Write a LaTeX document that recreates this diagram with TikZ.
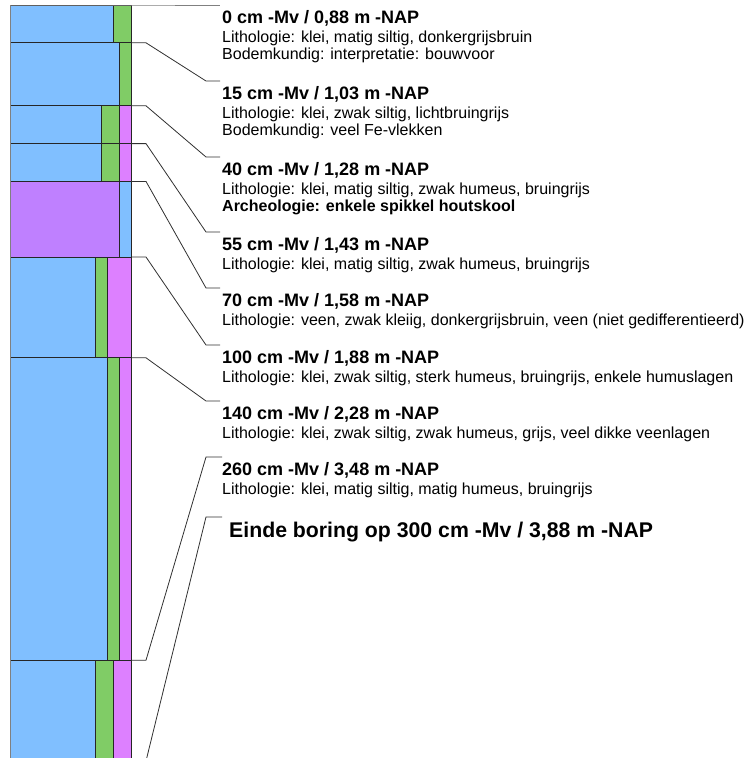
\documentclass[tikz,border=0pt]{standalone}
\usepackage{fontspec}
\setmainfont{Liberation Sans}
\definecolor{cblue}{HTML}{80BFFF}
\definecolor{cgreen}{HTML}{80CC66}
\definecolor{cpink}{HTML}{DD80FF}
\definecolor{cpurple}{HTML}{BF80FF}
\definecolor{cline}{HTML}{303030}
\begin{document}
\begin{tikzpicture}[x=1pt,y=-1pt,
  seg/.style={draw=black!85,line width=0.8pt},
  leader/.style={draw=cline,line width=0.8pt},
  hdr/.style={anchor=base west,inner sep=0pt,font=\fontsize{18}{20}\selectfont\bfseries},
  txt/.style={anchor=base west,inner sep=0pt,font=\fontsize{16}{18}\selectfont},
  endtxt/.style={anchor=base west,inner sep=0pt,font=\fontsize{21.25}{24}\selectfont\bfseries},
]
\useasboundingbox (0,0) rectangle (744,758);
% layers
\path[seg,fill=cblue]  (10,5) rectangle (113,42.8);
\path[seg,fill=cgreen] (113,5) rectangle (131,42.8);
\path[seg,fill=cblue]  (10,42.8) rectangle (119,105.8);
\path[seg,fill=cgreen] (119,42.8) rectangle (131,105.8);
\path[seg,fill=cblue]  (10,105.8) rectangle (101,143.6);
\path[seg,fill=cgreen] (101,105.8) rectangle (119,143.6);
\path[seg,fill=cpink]  (119,105.8) rectangle (131,143.6);
\path[seg,fill=cblue]  (10,143.6) rectangle (101,181.4);
\path[seg,fill=cgreen] (101,143.6) rectangle (119,181.4);
\path[seg,fill=cpink]  (119,143.6) rectangle (131,181.4);
\path[seg,fill=cpurple](10,181.4) rectangle (119,257);
\path[seg,fill=cblue]  (119,181.4) rectangle (131,257);
\path[seg,fill=cblue]  (10,257) rectangle (95,357.8);
\path[seg,fill=cgreen] (95,257) rectangle (107,357.8);
\path[seg,fill=cpink]  (107,257) rectangle (131,357.8);
\path[seg,fill=cblue]  (10,357.8) rectangle (107,660.2);
\path[seg,fill=cgreen] (107,357.8) rectangle (119,660.2);
\path[seg,fill=cpink]  (119,357.8) rectangle (131,660.2);
\path[seg,fill=cblue]  (10,660.2) rectangle (95,761);
\path[seg,fill=cgreen] (95,660.2) rectangle (113,761);
\path[seg,fill=cpink]  (113,660.2) rectangle (131,761);
\draw[gray,line width=0.8pt] (10,5) -- (10,758);
% boundary coordinates
\coordinate (t0) at (131,5);
\coordinate (t1) at (131,42.8);   \coordinate (k1) at (146,42.8);  \coordinate (m1) at (206,81);
\coordinate (t2) at (131,105.8);  \coordinate (k2) at (146,105.8); \coordinate (m2) at (206,157);
\coordinate (t3) at (131,143.6);  \coordinate (k3) at (146,143.6); \coordinate (m3) at (206,232);
\coordinate (t4) at (131,181.4);  \coordinate (k4) at (146,181.4); \coordinate (m4) at (206,288);
\coordinate (t5) at (131,257);    \coordinate (k5) at (146,257);   \coordinate (m5) at (206,345);
\coordinate (t6) at (131,357.8);  \coordinate (k6) at (146,357.8); \coordinate (m6) at (206,401);
\coordinate (t7) at (131,660.2);  \coordinate (k7) at (146,660.2); \coordinate (m7) at (206,457);
\coordinate (t8) at (131,761);    \coordinate (k8) at (146,761);   \coordinate (m8) at (206,517);
\coordinate (e0) at (220,5);
\coordinate (e1) at (220,81);
\coordinate (e2) at (220,157);
\coordinate (e3) at (220,232);
\coordinate (e4) at (220,288);
\coordinate (e5) at (220,345);
\coordinate (e6) at (220,401);
\coordinate (e7) at (222,457);
\coordinate (e8) at (222,517);
% labels
\node[hdr] (h0) at (222,23.5) {0 cm -Mv / 0,88 m -NAP};
\node[txt] (a0) at (222,42) {Lithologie: klei, matig siltig, donkergrijsbruin};
\node[txt] (b0) at (222,59.5) {Bodemkundig: interpretatie: bouwvoor};
\node[hdr] (h1) at (222,99.5) {15 cm -Mv / 1,03 m -NAP};
\node[txt] (a1) at (222,118) {Lithologie: klei, zwak siltig, lichtbruingrijs};
\node[txt] (b1) at (222,135.5) {Bodemkundig: veel Fe-vlekken};
\node[hdr] (h2) at (222,175.5) {40 cm -Mv / 1,28 m -NAP};
\node[txt] (a2) at (222,194) {Lithologie: klei, matig siltig, zwak humeus, bruingrijs};
\node[txt,font=\fontsize{16}{18}\selectfont\bfseries] (b2) at (222,211.5) {Archeologie: enkele spikkel houtskool};
\node[hdr] (h3) at (222,250.5) {55 cm -Mv / 1,43 m -NAP};
\node[txt] (a3) at (222,269) {Lithologie: klei, matig siltig, zwak humeus, bruingrijs};
\node[hdr] (h4) at (222,306.5) {70 cm -Mv / 1,58 m -NAP};
\node[txt] (a4) at (222,325) {Lithologie: veen, zwak kleiig, donkergrijsbruin, veen (niet gedifferentieerd)};
\node[hdr] (h5) at (222,363.5) {100 cm -Mv / 1,88 m -NAP};
\node[txt] (a5) at (222,382) {Lithologie: klei, zwak siltig, sterk humeus, bruingrijs, enkele humuslagen};
\node[hdr] (h6) at (222,419.5) {140 cm -Mv / 2,28 m -NAP};
\node[txt] (a6) at (222,438) {Lithologie: klei, zwak siltig, zwak humeus, grijs, veel dikke veenlagen};
\node[hdr] (h7) at (222,475.5) {260 cm -Mv / 3,48 m -NAP};
\node[txt] (a7) at (222,494) {Lithologie: klei, matig siltig, matig humeus, bruingrijs};
\node[endtxt] (h8) at (229,537.5) {Einde boring op 300 cm -Mv / 3,88 m -NAP};
% leaders
\draw[gray,line width=0.8pt] (10,5) -- (t0) -- (e0);
\draw[leader] (t1) -- (k1) -- (m1) -- (e1);
\draw[leader] (t2) -- (k2) -- (m2) -- (e2);
\draw[leader] (t3) -- (k3) -- (m3) -- (e3);
\draw[leader] (t4) -- (k4) -- (m4) -- (e4);
\draw[leader] (t5) -- (k5) -- (m5) -- (e5);
\draw[leader] (t6) -- (k6) -- (m6) -- (e6);
\draw[leader] (t7) -- (k7) -- (m7) -- (e7);
\draw[leader] (t8) -- (k8) -- (m8) -- (e8);
\end{tikzpicture}
\end{document}
